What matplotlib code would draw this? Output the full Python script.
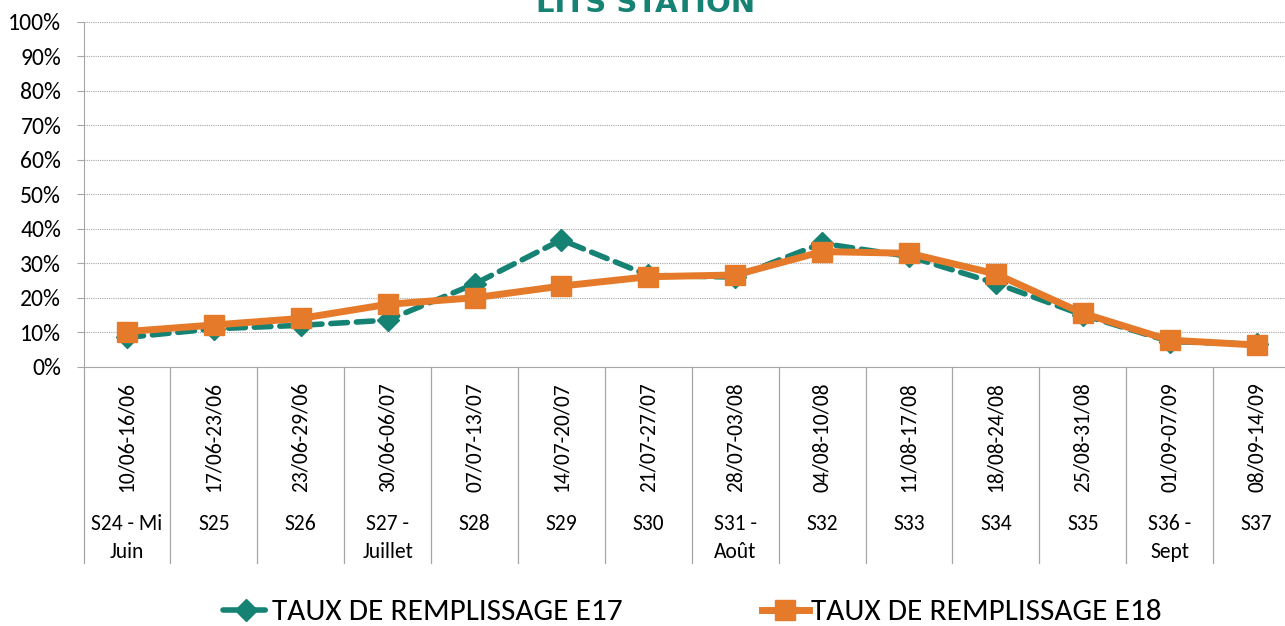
import matplotlib.pyplot as plt
from matplotlib.ticker import PercentFormatter

dates = ['10/06-16/06', '17/06-23/06', '23/06-29/06', '30/06-06/07', '07/07-13/07',
         '14/07-20/07', '21/07-27/07', '28/07-03/08', '04/08-10/08', '11/08-17/08',
         '18/08-24/08', '25/08-31/08', '01/09-07/09', '08/09-14/09']
weeks = ['S24 - Mi\nJuin', 'S25', 'S26', 'S27 -\nJuillet', 'S28', 'S29', 'S30',
         'S31 -\nAoût', 'S32', 'S33', 'S34', 'S35', 'S36 -\nSept', 'S37']
taux_e17 = [8.5, 11.0, 12.0, 13.5, 24.0, 36.8, 26.5, 26.0, 35.8, 32.0, 24.2, 15.0, 7.3, 6.5]
taux_e18 = [10.2, 12.1, 14.0, 18.1, 20.0, 23.4, 26.1, 26.6, 33.4, 32.9, 26.9, 15.5, 7.7, 6.3]

teal = '#168274'
orange = '#E57A2A'
calibri = ['Carlito', 'DejaVu Sans']
W, H = 1285, 626

fig = plt.figure(figsize=(12.85, 6.26), dpi=100)
# plot area runs a little past the right edge, like the original export
ax = fig.add_axes([83.5 / W, 1 - 366.7 / H, (1300 - 83.5) / W, 344.7 / H])


def ay(ypix):
    # pixel row of the picture -> axes fraction
    return (366.7 - ypix) / 344.7


x = list(range(len(dates)))
l17, = ax.plot(x, taux_e17, color=teal, linestyle='--', linewidth=4, dashes=(3, 1.6),
               dash_capstyle='round', marker='D', markersize=11,
               label='TAUX DE REMPLISSAGE E17', zorder=3)
l18, = ax.plot(x, taux_e18, color=orange, linewidth=5, marker='s', markersize=15,
               label='TAUX DE REMPLISSAGE E18', zorder=4)

ax.set_xlim(-0.5, len(dates) - 0.5)
ax.set_ylim(0, 100)
ax.set_yticks(range(0, 101, 10))
ax.yaxis.set_major_formatter(PercentFormatter(decimals=0))
ax.grid(axis='y', linestyle=(0, (1, 1)), color='#a6a6a6', linewidth=0.8)
ax.set_xticks([])
for lab in ax.get_yticklabels():
    lab.set_family(calibri)
    lab.set_fontsize(17)
ax.tick_params(axis='y', length=5, color='#a6a6a6', pad=11)

for s in ['top', 'right']:
    ax.spines[s].set_visible(False)
ax.spines['left'].set_linestyle((0, (1, 1)))
ax.spines['left'].set_color('#a6a6a6')
ax.spines['bottom'].set_color('#a6a6a6')

# two-level category axis
trans = ax.get_xaxis_transform()
for i in range(len(dates) + 1):
    ax.plot([i - 0.5, i - 0.5], [0, ay(563)], color='#a6a6a6', linewidth=0.9,
            transform=trans, clip_on=False)
for i in x:
    ax.text(i, ay(382), dates[i], rotation=90, ha='center', va='top',
            fontsize=15.5, transform=trans, family=calibri)
    for k, line in enumerate(weeks[i].split('\n')):
        ax.text(i, ay(529.5 + 28 * k), line, ha='center', va='baseline',
                fontsize=15.5, transform=trans, family=calibri)

fig.text(0.502, 1 - 12 / H, 'LITS STATION', ha='center', va='baseline', fontsize=21,
         fontweight='bold', color=teal)

for handle, xpix in [(l17, 223), (l18, 762)]:
    fig.legend(handles=[handle], loc='center left', bbox_to_anchor=(xpix / W, 1 - 612 / H),
               frameon=False, prop={'family': calibri, 'size': 22.5}, handlelength=1.5,
               handletextpad=0.08, borderpad=0, borderaxespad=0)

fig.savefig('out.png', dpi=100)
